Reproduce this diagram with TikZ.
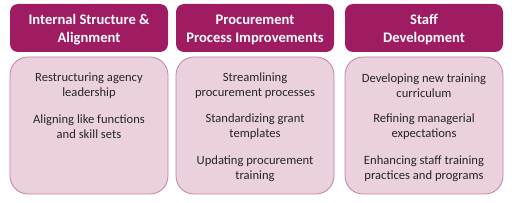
\documentclass[tikz,border=0pt]{standalone}
\usepackage{fontspec}
\setmainfont{Carlito}
\definecolor{hdr}{HTML}{A01C62}
\definecolor{bodyfill}{HTML}{EBD1DE}
\definecolor{bodyline}{HTML}{C47FA3}
\definecolor{txt}{HTML}{262626}
\begin{document}
\begin{tikzpicture}[x=1pt,y=-1pt,
  hdrbox/.style={fill=hdr,draw=none,rounded corners=8pt},
  bodybox/.style={fill=bodyfill,draw=bodyline,line width=0.8pt,rounded corners=18pt},
  hdrtext/.style={text=white,font=\bfseries\fontsize{14.6}{18}\selectfont,align=center,inner sep=0pt},
  itemtext/.style={text=txt,font=\fontsize{12.6}{15}\selectfont,align=center,inner sep=0pt}]
\useasboundingbox (0,0) rectangle (512,203);
% column boxes
\foreach \l/\r [count=\i] in {10/168,176/334,345/503}{
  \path[hdrbox] (\l,4) rectangle (\r,52);
  \path[bodybox] (\l,57) rectangle (\r,194);
}
% headers
\node[hdrtext] (h1) at (89,29.5) {Internal Structure \&\\Alignment};
\node[hdrtext] (h2) at (255,29.5) {Procurement\\Process Improvements};
\node[hdrtext] (h3) at (424,29.5) {Staff\\Development};
% items
\node[itemtext] (a1) at (89,86) {Restructuring agency\\leadership};
\node[itemtext] (a2) at (89,127) {Aligning like functions\\and skill sets};
\node[itemtext] (b1) at (255,86) {Streamlining\\procurement processes};
\node[itemtext] (b2) at (255,127) {Standardizing grant\\templates};
\node[itemtext] (b3) at (255,169) {Updating procurement\\training};
\node[itemtext] (c1) at (424,86) {Developing new training\\curriculum};
\node[itemtext] (c2) at (424,127) {Refining managerial\\expectations};
\node[itemtext] (c3) at (424,169) {Enhancing staff training\\practices and programs};
\end{tikzpicture}
\end{document}
